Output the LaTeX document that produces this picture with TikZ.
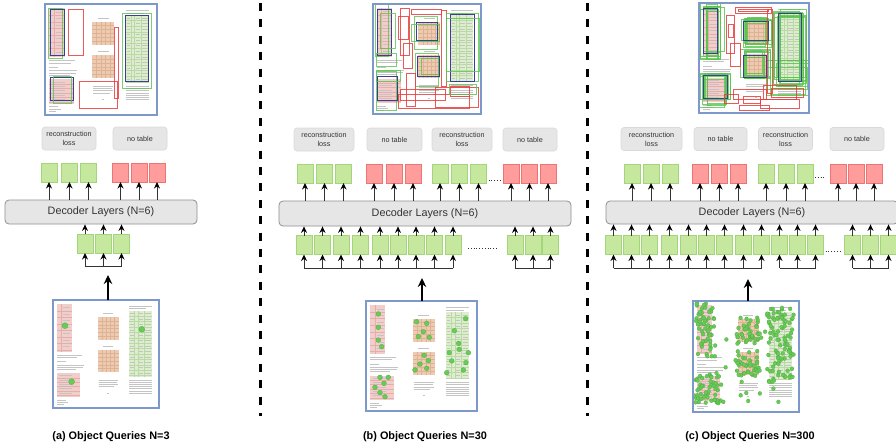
\documentclass[tikz,border=0pt]{standalone}
\usepackage{fontspec}
\setmainfont{Liberation Sans}
\usetikzlibrary{arrows.meta}

\definecolor{qfill}{HTML}{C6E79E}
\definecolor{qline}{HTML}{A3D57A}
\definecolor{rfill}{HTML}{FF9D9D}
\definecolor{rline}{HTML}{EE7373}
\definecolor{lbfill}{HTML}{E6E6E6}
\definecolor{lbline}{HTML}{D9D9D9}
\definecolor{decline}{HTML}{8F8F8F}
\definecolor{framec}{HTML}{7D99CC}
\definecolor{ovg}{HTML}{58C34E}
\definecolor{ovr}{HTML}{E83C3C}
\definecolor{ovb}{HTML}{3A3F94}
\definecolor{pkfill}{HTML}{F2CDC9}
\definecolor{pkline}{HTML}{E3AFAB}
\definecolor{brfill}{HTML}{EDCAB0}
\definecolor{brline}{HTML}{DDB396}
\definecolor{gtfill}{HTML}{DDEECD}
\definecolor{gtline}{HTML}{BBD8A8}
\definecolor{inkc}{HTML}{C4C4C4}
\definecolor{txtc}{HTML}{333333}
\definecolor{dotg}{HTML}{66CC55}

% thumbnail of a document page, drawn in a 100 x 100 box (y downwards)
\newcommand\pagebody{%
  % left column table
  \fill[pk] (4,4) rectangle (17.5,48);
  \foreach \pv in {10,16,...,46} \draw[pkl] (4,\pv) -- (17.5,\pv);
  \draw[pkl] (8,4) -- (8,48);
  \foreach \pv in {7,13,...,43} \draw[ink] (9.5,\pv) -- (16,\pv);
  % paragraph below it
  \foreach \pv/\pl in {51/27,53/23,57/12,60/29,62/28,64/22} \draw[ink] (4,\pv) -- (\pl,\pv);
  % lower left table
  \fill[pk] (4,68) rectangle (25.5,90);
  \foreach \pv in {72,76,...,88} \draw[pkl] (4,\pv) -- (25.5,\pv);
  \foreach \pv in {70,74,...,86} \draw[ink] (6,\pv) -- (18,\pv);
  \foreach \pv/\pl in {92.5/12,94.5/14,96.5/10} \draw[ink] (4,\pv) -- (\pl,\pv);
  % two centre tables with captions
  \foreach \tp in {16,46} {
    \draw[ink] (47,\tp-3.5) -- (57,\tp-3.5);
    \fill[br] (42,\tp) rectangle (62,\tp+21);
    \foreach \pv in {3.5,7,...,18} \draw[brl] (42,\tp+\pv) -- (62,\tp+\pv);
    \foreach \pu in {46,50,...,58} \draw[brl] (\pu,\tp) -- (\pu,\tp+21);
  }
  \foreach \pv/\pa/\pb in {74/43/61,76/43/60,78/43/61,80/43/58,86/51/53} \draw[ink] (\pa,\pv) -- (\pb,\pv);
  % right column table
  \foreach \pv/\pl in {6/93,8/88} \draw[ink] (72,\pv) -- (\pl,\pv);
  \fill[gt] (72,10) rectangle (93,71);
  \foreach \pv in {15,20,...,70} \draw[gtl] (72,\pv) -- (93,\pv);
  \foreach \pu in {77,80,86} \draw[gtl] (\pu,10) -- (\pu,71);
  \foreach \pv in {12.5,17.5,...,68} {\draw[ink] (73,\pv) -- (76,\pv); \draw[ink] (81,\pv) -- (85,\pv); \draw[ink] (87,\pv) -- (92,\pv);}
  \foreach \pv in {74,76,...,86} \draw[ink] (72,\pv) -- (93,\pv);
}

% box with randomly shifted corners
\newcommand\jitbox[6]{%
  \pgfmathsetmacro\jxa{#2+#6*rand}\pgfmathsetmacro\jya{#3+#6*rand}%
  \pgfmathsetmacro\jxb{#4+#6*rand}\pgfmathsetmacro\jyb{#5+#6*rand}%
  \draw[#1] (\jxa,\jya) rectangle (\jxb,\jyb);}
% random cloud of query points
\newcommand\dotcloud[5]{%
  \foreach \k in {1,...,#1}{%
    \pgfmathsetmacro\dcx{#2+(#4-#2)*rnd}\pgfmathsetmacro\dcy{#3+(#5-#3)*rnd}%
    \fill[qdot] (\dcx,\dcy) circle (1.8pt);}}

\begin{document}
\begin{tikzpicture}[x=1pt,y=-1pt,
  qg/.style={draw=qline, fill=qfill, line width=0.8pt, minimum width=16pt, minimum height=19pt, inner sep=0pt, outer sep=0pt},
  qr/.style={qg, draw=rline, fill=rfill},
  lbl/.style={draw=lbline, fill=lbfill, rounded corners=3pt, line width=0.6pt, inner sep=0pt, minimum height=23pt, align=center, font=\fontsize{7.2}{9}\selectfont, text=txtc},
  dec/.style={draw=decline, fill=lbfill, rounded corners=4pt, line width=0.8pt, inner sep=0pt, font=\fontsize{10.8}{12}\selectfont, text=txtc},
  arr/.style={draw=txtc, line width=1pt, -{Stealth[length=6.5pt,width=6pt,color=black]}},
  brk/.style={draw=txtc, line width=1pt},
  bigarr/.style={draw=black, line width=2pt, -{Stealth[length=9pt,width=8.5pt]}},
  docframe/.style={draw=framec, line width=1.8pt, inner sep=0pt, outer sep=0pt},
  sep/.style={line width=3pt, dash pattern=on 8pt off 8.4pt},
  captext/.style={font=\bfseries\fontsize{10.9}{13}\selectfont},
  dotrow/.style={draw=txtc, line width=0.7pt, dash pattern=on 0.8pt off 2pt},
  pk/.style={fill=pkfill}, pkl/.style={draw=pkline, line width=0.3pt},
  br/.style={fill=brfill}, brl/.style={draw=brline, line width=0.3pt},
  gt/.style={fill=gtfill}, gtl/.style={draw=gtline, line width=0.3pt},
  ink/.style={draw=inkc, line width=0.4pt},
  gb/.style={draw=ovg, line width=1pt, draw opacity=0.8},
  rb/.style={draw=ovr, line width=1pt, draw opacity=0.85},
  bb/.style={draw=ovb, line width=1pt},
  qdot/.style={fill=dotg, draw=dotg!80!black, line width=0.2pt}]

\useasboundingbox (0,0) rectangle (896,444);
\clip (0,0) rectangle (896,444);

% ---------------- separators ----------------
\coordinate (s1t) at (260,3); \coordinate (s1b) at (260,416);
\coordinate (s2t) at (587,3); \coordinate (s2b) at (587,416);
\draw[sep] (s1t) -- (s1b);
\draw[sep] (s2t) -- (s2b);

% ================= (a) N=3 =================
\begin{scope}[shift={(45,4)},xscale=1.12,yscale=1.11]
  \pagebody
  \draw[gb] (3,4) rectangle (16,49);
  \draw[bb] (4.5,5.4) rectangle (17,46);
  \draw[rb] (21,4.8) rectangle (34,46);
  \draw[bb] (5,66) rectangle (25,86.5);
  \draw[gb] (7.4,65) rectangle (24,90);
  \draw[rb] (31,70) rectangle (65,94);
  \draw[rb] (62,21) rectangle (66,85);
  \draw[gb] (69,8.4) rectangle (95,76);
  \draw[bb] (72,10) rectangle (92,70);
\end{scope}
\node[docframe, minimum width=112pt, minimum height=111pt] (a-top) at (101,59.5) {};

\node[lbl, minimum width=54pt] (a-l1) at (69,138.5) {reconstruction\\loss};
\node[lbl, minimum width=54pt] (a-l2) at (140,138.5) {no table};

\foreach \n/\x in {1/49,2/69.5,3/88.5} \node[qg] (a-o\n) at (\x,172.5) {};
\foreach \n/\x in {4/120.5,5/139,6/157} \node[qr] (a-o\n) at (\x,172.5) {};

\node[dec, minimum width=192pt, minimum height=24pt] (a-dec) at (101,212) {Decoder Layers (N=6)};
\foreach \n in {1,...,6} \draw[arr] (a-o\n |- a-dec.north) -- (a-o\n.south);

\foreach \n/\x in {1/85,2/103.5,3/121.5} \node[qg] (a-i\n) at (\x,243.5) {};
\foreach \n in {1,2,3} \draw[arr] (a-i\n.north) -- (a-i\n |- a-dec.south);
\coordinate (a-br) at (0,266);
\draw[brk] (a-i1 |- a-br) -- (a-i3 |- a-br);
\foreach \n in {1,2,3} \draw[arr] (a-i\n |- a-br) -- (a-i\n.south);

\begin{scope}[shift={(53,300)},xscale=1.06,yscale=1.08]
  \pagebody
  \foreach \p in {(11.3,23.8),(83.7,27.1),(17.6,75.6)} \fill[qdot] \p circle (2.8pt);
\end{scope}
\node[docframe, minimum width=106pt, minimum height=108pt] (a-bot) at (106,354) {};
\coordinate (a-tip) at (108,275);
\draw[bigarr] (a-tip |- a-bot.north) -- (a-tip);

\node[captext] (a-cap) at (111,437) {(a) Object Queries N=3};

% ================= (b) N=30 =================
\begin{scope}[shift={(373,4)},xscale=1.08,yscale=1.10]
  \pagebody
  \draw[gb] (1.9,0.9) rectangle (14.2,47.9);
  \draw[bb] (4,4.8) rectangle (17.3,46.4);
  \draw[gb] (7.1,8.5) rectangle (20.4,40.3);
  \draw[gb] (2.8,44.8) rectangle (21.9,57);
  \draw[rb] (25,3.9) rectangle (33.6,46.4);
  \draw[rb] (23.5,11.5) rectangle (32.7,32.7);
  \draw[rb] (28,35.7) rectangle (36.7,58.5);
  \draw[rb] (35.8,4.8) rectangle (63.6,9.1);
  \draw[rb] (63,5.5) rectangle (67.6,75.2);
  \draw[gb] (38,11.5) rectangle (59.6,41.8);
  \draw[bb] (40.4,17) rectangle (59.6,33.3);
  \draw[gb] (35.8,18.2) rectangle (62,34.2);
  \draw[gb] (39.8,44.8) rectangle (60.7,75.2);
  \draw[bb] (41,47.3) rectangle (61.4,66);
  \draw[gb] (45,49.4) rectangle (60.5,64.5);
  \draw[gb] (67.6,8.5) rectangle (97.5,70.6);
  \draw[bb] (71.3,9.1) rectangle (94.4,70.6);
  \draw[gb] (67.6,13) rectangle (98.5,61.5);
  \draw[gb] (3.4,61.5) rectangle (21.9,96.4);
  \draw[bb] (4,66) rectangle (22.5,87.6);
  \draw[gb] (2.8,60.6) rectangle (25.6,70.6);
  \draw[rb] (31.2,63.6) rectangle (39.8,93.3);
  \draw[rb] (23.5,82.7) rectangle (89.8,95);
  \draw[rb] (58.3,75.8) rectangle (97.5,94);
  \draw[rb] (71.3,75) rectangle (89.8,84.2);
  \draw[gb] (70.7,73.6) rectangle (96,82.7);
  \draw[rb] (25,78) rectangle (66.7,87.6);
\end{scope}
\node[docframe, minimum width=108pt, minimum height=110pt] (b-top) at (427,59) {};

\node[lbl, minimum width=60pt] (b-l1) at (324,139.5) {reconstruction\\loss};
\node[lbl, minimum width=55pt] (b-l2) at (394.5,139.5) {no table};
\node[lbl, minimum width=60pt] (b-l3) at (462,139.5) {reconstruction\\loss};
\node[lbl, minimum width=54pt] (b-l4) at (530,139.5) {no table};

\foreach \n/\x in {1/305,2/324.5,3/343.5,7/440,8/459.5,9/478.5} \node[qg] (b-o\n) at (\x,173.5) {};
\foreach \n/\x in {4/374,5/394,6/413,10/511,11/529.5,12/548} \node[qr] (b-o\n) at (\x,173.5) {};
\draw[dotrow] ([shift={(2,-3)}]b-o9.south east) -- ([shift={(-2,-3)}]b-o10.south west);

\node[dec, minimum width=292pt, minimum height=25pt] (b-dec) at (425,213.5) {Decoder Layers (N=6)};
\foreach \n in {1,...,12} \draw[arr] (b-o\n |- b-dec.north) -- (b-o\n.south);

\foreach \n/\x in {1/304,2/322.5,3/341,4/360.5,5/380,6/398,7/416,8/434.5,9/453,10/515,11/533,12/550.5}
  \node[qg] (b-i\n) at (\x,245) {};
\foreach \n in {1,...,12} \draw[arr] (b-i\n.north) -- (b-i\n |- b-dec.south);
\draw[dotrow] ([shift={(7,-6)}]b-i9.south east) -- ([shift={(-9,-6)}]b-i10.south west);
\coordinate (b-br) at (0,268);
\draw[brk] (b-i1 |- b-br) -- (b-i9 |- b-br);
\draw[brk] (b-i10 |- b-br) -- (b-i12 |- b-br);
\foreach \n in {1,...,12} \draw[arr] (b-i\n |- b-br) -- (b-i\n.south);

\begin{scope}[shift={(366,301)},xscale=1.11,yscale=1.10]
  \pagebody
  \foreach \p in {(11.1,11.8),(11.1,23.9),(11.1,35.5),(14.1,41.5),(45.6,18.8),(54.7,20.3),
    (51.6,27.9),(47.1,32.4),(57,33),(52.3,49.4),(56.1,54.2),(48.6,57.3),(44.1,62.7),(54.7,61.2),
    (12.6,69.4),(20.1,69.4),(16.2,74.8),(8.1,78.5),(12.6,83.3),(17.1,87),(89.8,16.1),(79.6,27),
    (83.5,38.5),(75,47),(92.2,47),(77.2,54.5),(87.7,62.7),(72.7,65.2),(84,44),(90,56)}
    \fill[qdot] \p circle (2.2pt);
\end{scope}
\node[docframe, minimum width=111pt, minimum height=110pt] (b-bot) at (421.5,356) {};
\coordinate (b-tip) at (422,278);
\draw[bigarr] (b-tip |- b-bot.north) -- (b-tip);

\node[captext] (b-cap) at (425,437) {(b) Object Queries N=30};

% ================= (c) N=300 =================
\pgfmathsetseed{12}
\begin{scope}[shift={(699,3)},xscale=1.10,yscale=1.10]
  \pagebody
  \foreach \i in {1,...,10} {\jitbox{gb}{4}{4}{19}{48}{4}}
  \foreach \i in {1,...,10} {\jitbox{gb}{4}{66}{26}{91}{4}}
  \foreach \i in {1,...,8} {\jitbox{gb}{41}{15}{63}{37}{4}}
  \foreach \i in {1,...,8} {\jitbox{gb}{41}{46}{62}{67}{4}}
  \foreach \i in {1,...,10} {\jitbox{gb}{71}{9}{94}{71}{4}}
  \foreach \i in {1,...,4} {\jitbox{gb}{66}{55}{96}{80}{5}}
  \draw[bb] (4.5,5) rectangle (17,46);
  \draw[bb] (40.3,17) rectangle (63,34.3);
  \draw[bb] (40.3,47.3) rectangle (61.5,67.6);
  \draw[bb] (72.7,9.4) rectangle (93.6,71.5);
  \draw[bb] (4.5,66) rectangle (25.7,87);
  \draw[rb] (25,11.8) rectangle (32.7,45.7);
  \draw[rb] (27,20) rectangle (31.5,31);
  \draw[rb] (33,4) rectangle (66,9.4);
  \draw[rb] (36,5.5) rectangle (63,8);
  \draw[rb] (28.8,36.6) rectangle (37.3,58);
  \draw[rb] (62,6) rectangle (67,82);
  \draw[rb] (31,79) rectangle (61.5,88);
  \draw[rb] (36.7,93.6) rectangle (63.9,97.3);
  \draw[rb] (58.5,75) rectangle (88.8,88);
  \draw[rb] (55.5,88) rectangle (91.8,95.8);
  \draw[rb] (23.6,83.6) rectangle (35.8,91);
  \draw[rb] (40,85) rectangle (56,91);
  \draw[rb] (66,78) rectangle (95,86);
\end{scope}
\node[docframe, minimum width=110pt, minimum height=110pt] (c-top) at (754,58) {};

\node[lbl, minimum width=61pt] (c-l1) at (651.5,139) {reconstruction\\loss};
\node[lbl, minimum width=53pt] (c-l2) at (720.5,139) {no table};
\node[lbl, minimum width=54pt] (c-l3) at (785.5,139) {reconstruction\\loss};
\node[lbl, minimum width=54pt] (c-l4) at (857,139) {no table};

\foreach \n/\x in {1/632,2/651,3/670,7/766,8/786,9/805} \node[qg] (c-o\n) at (\x,173.5) {};
\foreach \n/\x in {4/700,5/719.5,6/738,10/838,11/856,12/874} \node[qr] (c-o\n) at (\x,173.5) {};
\draw[dotrow] ([shift={(2,-6)}]c-o9.south east) -- ([shift={(-4,-6)}]c-o10.south west);

\node[dec, minimum width=292pt, minimum height=23pt] (c-dec) at (752,212.5) {Decoder Layers (N=6)};
\foreach \n in {1,...,12} \draw[arr] (c-o\n |- c-dec.north) -- (c-o\n.south);

\foreach \n/\x in {1/613.5,2/631.5,3/649.5,4/669.5,5/688.5,6/706.5,7/724.5,8/743.5,9/761.5,
  10/779.5,11/797.5,12/815.5,13/852.5,14/870.5,15/888.5}
  \node[qg] (c-i\n) at (\x,245) {};
\foreach \n in {1,...,15} \draw[arr] (c-i\n.north) -- (c-i\n |- c-dec.south);
\draw[dotrow] ([shift={(2,-3)}]c-i12.south east) -- ([shift={(-4,-3)}]c-i13.south west);
\coordinate (c-br) at (0,268);
\draw[brk] (c-i1 |- c-br) -- (c-i9 |- c-br);
\draw[brk] (c-i10 |- c-br) -- (c-i12 |- c-br);
\draw[brk] (c-i13 |- c-br) -- (c-i15 |- c-br);
\foreach \n in {1,...,15} \draw[arr] (c-i\n |- c-br) -- (c-i\n.south);

\pgfmathsetseed{300}
\begin{scope}[shift={(693,301)},xscale=1.06,yscale=1.11]
  \pagebody
  \dotcloud{55}{2}{1}{20}{50}
  \dotcloud{45}{2}{66}{27}{92}
  \dotcloud{38}{41}{14}{63}{38}
  \dotcloud{38}{41}{45}{63}{68}
  \dotcloud{90}{70}{6}{95}{74}
  \dotcloud{34}{0}{0}{100}{100}
\end{scope}
\node[docframe, minimum width=106pt, minimum height=111pt] (c-bot) at (746,356.5) {};
\coordinate (c-tip) at (748,279);
\draw[bigarr] (c-tip |- c-bot.north) -- (c-tip);

\node[captext] (c-cap) at (750,437) {(c) Object Queries N=300};

\end{tikzpicture}
\end{document}
